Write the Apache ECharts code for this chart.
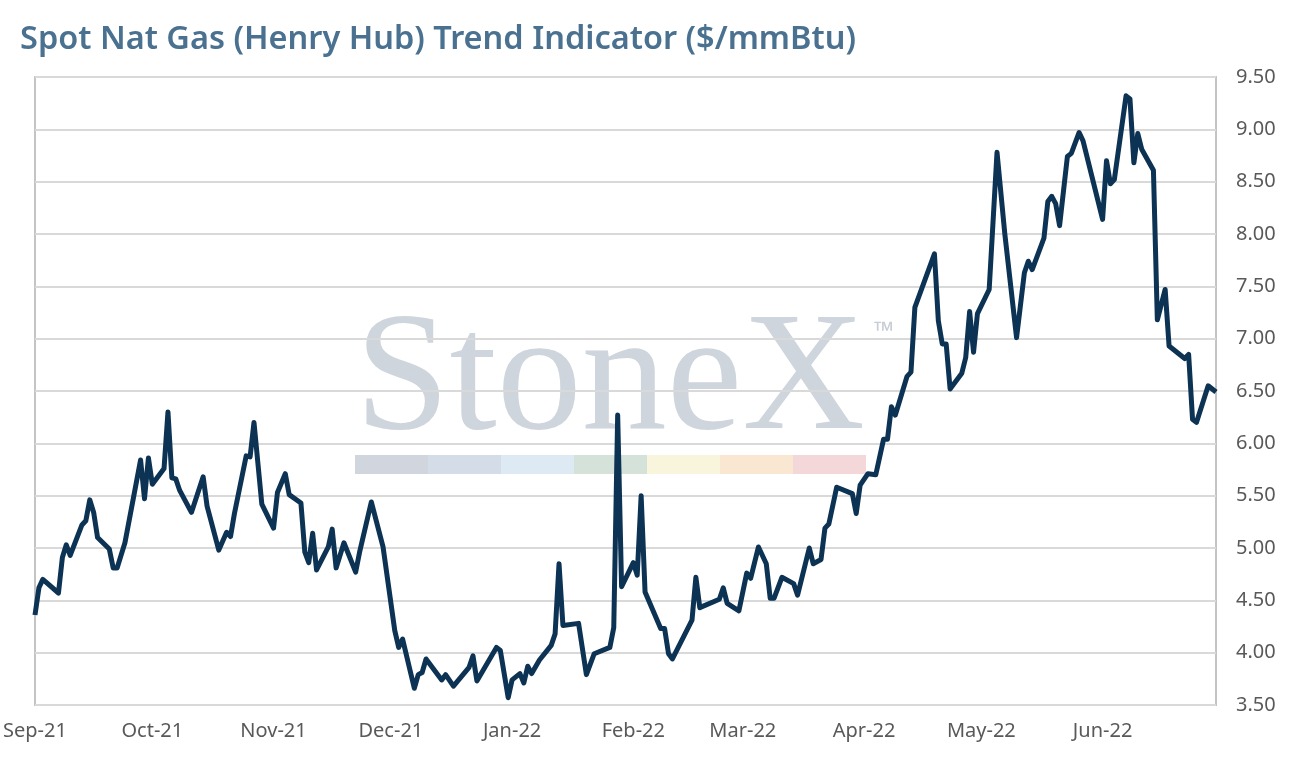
<!DOCTYPE html>
<html>
<head>
<meta charset="utf-8">
<title>Spot Nat Gas (Henry Hub) Trend Indicator</title>
<script src="https://cdn.jsdelivr.net/npm/echarts@6/dist/echarts.min.js"></script>
<style>
  html, body { margin: 0; padding: 0; background: #fff; }
  #chart { width: 1292px; height: 766px; }
</style>
</head>
<body>
<div id="chart"></div>
<script>
// data
const dates = [
  '2021-09-01', '2021-09-02', '2021-09-03', '2021-09-07', '2021-09-08', '2021-09-09', '2021-09-10',
  '2021-09-13', '2021-09-14', '2021-09-15', '2021-09-16', '2021-09-17', '2021-09-20', '2021-09-21',
  '2021-09-22', '2021-09-24', '2021-09-28', '2021-09-29', '2021-09-30', '2021-10-01', '2021-10-04',
  '2021-10-05', '2021-10-06', '2021-10-07', '2021-10-08', '2021-10-11', '2021-10-14', '2021-10-15',
  '2021-10-18', '2021-10-20', '2021-10-21', '2021-10-22', '2021-10-25', '2021-10-26', '2021-10-27',
  '2021-10-29', '2021-11-01', '2021-11-02', '2021-11-04', '2021-11-05', '2021-11-08', '2021-11-09',
  '2021-11-10', '2021-11-11', '2021-11-12', '2021-11-15', '2021-11-16', '2021-11-17', '2021-11-19',
  '2021-11-22', '2021-11-23', '2021-11-26', '2021-11-29', '2021-12-02', '2021-12-03', '2021-12-04',
  '2021-12-07', '2021-12-08', '2021-12-09', '2021-12-10', '2021-12-14', '2021-12-15', '2021-12-17',
  '2021-12-21', '2021-12-22', '2021-12-23', '2021-12-28', '2021-12-29', '2021-12-31', '2022-01-01',
  '2022-01-03', '2022-01-04', '2022-01-05', '2022-01-06', '2022-01-08', '2022-01-11', '2022-01-12',
  '2022-01-13', '2022-01-14', '2022-01-18', '2022-01-20', '2022-01-22', '2022-01-26', '2022-01-27',
  '2022-01-28', '2022-01-29', '2022-02-01', '2022-02-02', '2022-02-03', '2022-02-04', '2022-02-08',
  '2022-02-09', '2022-02-10', '2022-02-11', '2022-02-16', '2022-02-17', '2022-02-18', '2022-02-23',
  '2022-02-24', '2022-02-25', '2022-02-28', '2022-03-02', '2022-03-03', '2022-03-05', '2022-03-07',
  '2022-03-08', '2022-03-09', '2022-03-11', '2022-03-14', '2022-03-15', '2022-03-18', '2022-03-19',
  '2022-03-21', '2022-03-22', '2022-03-23', '2022-03-25', '2022-03-29', '2022-03-30', '2022-03-31',
  '2022-04-02', '2022-04-04', '2022-04-06', '2022-04-07', '2022-04-08', '2022-04-09', '2022-04-12',
  '2022-04-13', '2022-04-14', '2022-04-19', '2022-04-20', '2022-04-21', '2022-04-22', '2022-04-23',
  '2022-04-26', '2022-04-27', '2022-04-28', '2022-04-29', '2022-04-30', '2022-05-03', '2022-05-05',
  '2022-05-07', '2022-05-10', '2022-05-12', '2022-05-13', '2022-05-14', '2022-05-17', '2022-05-18',
  '2022-05-19', '2022-05-20', '2022-05-21', '2022-05-23', '2022-05-24', '2022-05-26', '2022-05-27',
  '2022-06-01', '2022-06-02', '2022-06-03', '2022-06-04', '2022-06-07', '2022-06-08', '2022-06-09',
  '2022-06-10', '2022-06-11', '2022-06-14', '2022-06-15', '2022-06-17', '2022-06-18', '2022-06-22',
  '2022-06-23', '2022-06-24', '2022-06-25', '2022-06-28', '2022-06-30'
]
const prices = [
  4.36, 4.62, 4.70, 4.57, 4.91, 5.03, 4.93,
  5.22, 5.26, 5.46, 5.34, 5.10, 4.99, 4.81,
  4.81, 5.05, 5.84, 5.47, 5.86, 5.61, 5.76,
  6.30, 5.67, 5.66, 5.55, 5.34, 5.68, 5.40,
  4.98, 5.15, 5.11, 5.33, 5.88, 5.87, 6.20,
  5.42, 5.19, 5.53, 5.71, 5.51, 5.43, 4.96,
  4.86, 5.14, 4.79, 5.01, 5.18, 4.81, 5.05,
  4.77, 4.96, 5.44, 5.01, 4.21, 4.05, 4.13,
  3.66, 3.79, 3.81, 3.94, 3.74, 3.79, 3.68,
  3.86, 3.97, 3.73, 4.05, 4.02, 3.57, 3.74,
  3.80, 3.71, 3.87, 3.80, 3.93, 4.07, 4.18,
  4.85, 4.26, 4.28, 3.79, 3.99, 4.05, 4.24,
  6.27, 4.63, 4.86, 4.74, 5.50, 4.58, 4.23,
  4.23, 3.99, 3.94, 4.31, 4.72, 4.43, 4.51,
  4.62, 4.47, 4.40, 4.76, 4.71, 5.01, 4.85,
  4.52, 4.52, 4.72, 4.66, 4.55, 5.00, 4.85,
  4.89, 5.19, 5.23, 5.58, 5.52, 5.33, 5.60,
  5.71, 5.70, 6.04, 6.04, 6.35, 6.27, 6.64,
  6.68, 7.30, 7.81, 7.17, 6.95, 6.95, 6.52,
  6.67, 6.82, 7.26, 6.87, 7.24, 7.47, 8.78,
  8.00, 7.01, 7.63, 7.74, 7.66, 7.96, 8.31,
  8.36, 8.29, 8.08, 8.74, 8.77, 8.97, 8.89,
  8.14, 8.70, 8.48, 8.52, 9.32, 9.29, 8.68,
  8.96, 8.81, 8.61, 7.18, 7.47, 6.93, 6.81,
  6.85, 6.23, 6.20, 6.55, 6.49
]
const monthNames = ['Jan', 'Feb', 'Mar', 'Apr', 'May', 'Jun', 'Jul', 'Aug', 'Sep', 'Oct', 'Nov', 'Dec']
const yMin = 3.5
const yMax = 9.5
const yStep = 0.5

// logo watermark band colours
const bandColors = ['#d1d6de', '#d4dde7', '#deeaf3', '#d5e2d9', '#f8f5dc', '#f9e7d2', '#f3d7d9']

const DAY = 24 * 3600 * 1000
const chart = echarts.init(document.getElementById('chart'))

const band = bandColors.map((c, i) => ({
  type: 'rect',
  z: -10,
  shape: { x: 355 + i * 73, y: 455, width: 73, height: 19 },
  style: { fill: c }
}))

const option = {
  animation: false,
  title: {
    text: 'Spot Nat Gas (Henry Hub) Trend Indicator ($/mmBtu)',
    left: 15,
    top: 18,
    textStyle: {
      fontFamily: 'Noto Sans',
      fontSize: 32.5,
      fontWeight: 600,
      color: '#4a7190'
    }
  },
  grid: {
    left: 35,
    right: 76,
    top: 77,
    bottom: 61,
    show: true,
    borderColor: '#c4c4c4',
    borderWidth: 2,
    containLabel: false
  },
  graphic: [
    {
      type: 'text',
      z: -10,
      style: {
        x: 610,
        y: 468,
        text: 'StoneX',
        font: '170px "Liberation Serif"',
        fill: '#cfd5dd',
        textAlign: 'center',
        textVerticalAlign: 'bottom'
      }
    },
    {
      type: 'text',
      z: -10,
      style: {
        x: 874,
        y: 320,
        text: '™',
        font: '26px "Noto Sans"',
        fill: '#c6cdd6'
      }
    }
  ].concat(band),
  xAxis: {
    type: 'time',
    min: '2021-09-01',
    max: '2022-06-30',
    minInterval: 28 * DAY,
    maxInterval: 31 * DAY,
    axisLine: { show: false },
    axisTick: { show: false },
    splitLine: { show: false },
    axisLabel: {
      margin: 16,
      fontFamily: 'Noto Sans',
      fontSize: 20,
      color: '#595959',
      showMaxLabel: false,
      formatter: v => {
        const d = new Date(v)
        return monthNames[d.getMonth()] + '-' + String(d.getFullYear()).slice(2)
      }
    }
  },
  yAxis: {
    type: 'value',
    position: 'right',
    min: yMin,
    max: yMax,
    interval: yStep,
    axisLine: { show: false },
    axisTick: { show: false },
    axisLabel: {
      margin: 20,
      fontFamily: 'Noto Sans',
      fontSize: 20,
      color: '#595959',
      formatter: v => v.toFixed(2)
    },
    splitLine: { lineStyle: { color: '#d9d9d9', width: 2 } }
  },
  series: [
    {
      type: 'line',
      data: dates.map((d, i) => [d, prices[i]]),
      showSymbol: false,
      lineStyle: { color: '#0c3254', width: 5, join: 'round' },
      z: 5
    }
  ]
}

chart.setOption(option)
</script>
</body>
</html>
